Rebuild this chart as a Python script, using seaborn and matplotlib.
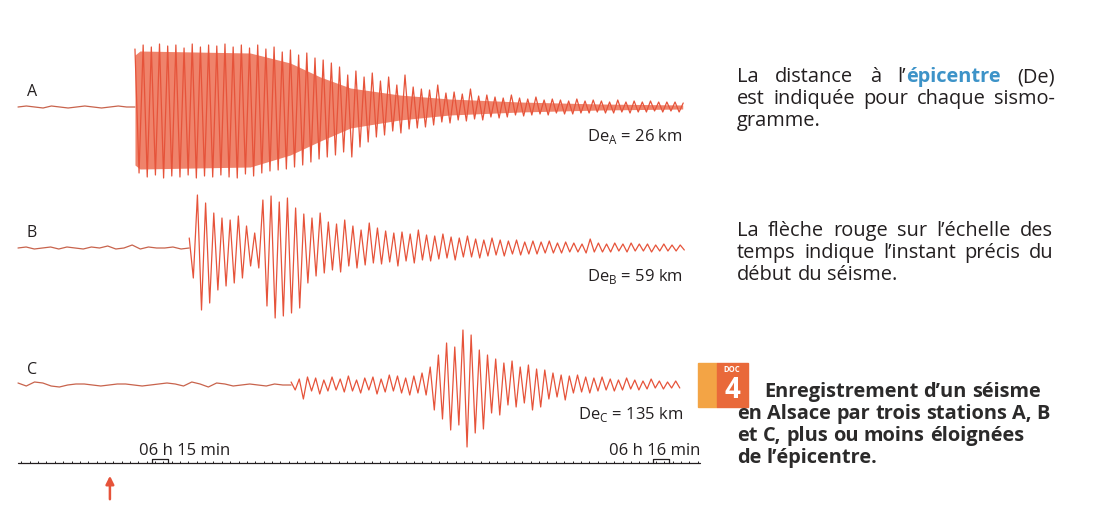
import numpy as np
import matplotlib
matplotlib.use('Agg')
import matplotlib.pyplot as plt
import seaborn as sns
from matplotlib.patches import Rectangle

# ---- data (amplitudes in arbitrary units, time in s relative to 06 h 15 min) ----
stations = ['A', 'B', 'C']
distances_km = [26, 59, 135]
onset_time = -5.4          # start of the quake (red arrow)
arrival = {'A': -2.4, 'B': 4.1, 'C': 16.3}
sample_step = 0.49

quiet_A = [0, 1, 0, -1, 1, 0, -1, 0, 1, 0, -1, 0, 1, 0, 0]
quiet_B = [0, 1, -1, 0, 1, -1, 1, 0, -1, 1, 0, 2, -1, 0, 3, -1, 1, 0, 0, 1, -1, 0]
quiet_C = [2, -1, 3, 2, -1, -2, 0, 1, 1, 0, -1, 0, 1, 1, 0, -1, 0, 1, 2, 1,
           -1, 3, 1, -2, 2, 1, -1, 0, 1, 0, -1, 1, 0, 0]

peaks_A = [58, -66, 62, -70, 60, -68, 63, -71, 61, -69,
           62, -70, 59, -68, 63, -71, 60, -69, 62, -70,
           61, -68, 63, -70, 60, -71, 62, -67, 59, -69,
           62, -66, 58, -64, 60, -63, 55, -62, 57, -60,
           52, -58, 54, -55, 49, -52, 47, -50, 44, -48,
           40, -45, 32, -50, 36, -40, 30, -35, 34, -30,
           26, -28, 30, -24, 22, -26, 32, -22, 20, -21,
           18, -20, 17, -18, 22, -15, 14, -16, 15, -13,
           13, -14, 18, -12, 11, -13, 12, -10, 10, -11,
           9, -10, 12, -8, 9, -9, 8, -8, 10, -7,
           7, -8, 8, -6, 7, -7, 6, -7, 8, -6,
           6, -6, 7, -5, 6, -6, 5, -6, 7, -5,
           5, -6, 6, -5, 5, -5, 6, -4, 5, -5,
           5, -4, 5, -5, 4]

peaks_B = [10, -30, 53, -62, 45, -55, 35, -42, 30, -38,
           28, -35, 32, -30, 22, -18, 15, -20, 48, -58,
           52, -70, 46, -68, 50, -65, 40, -60, 34, -35,
           30, -28, 35, -25, 26, -22, 24, -24, 28, -18,
           22, -20, 18, -17, 25, -15, 20, -16, 17, -14,
           15, -18, 16, -13, 14, -15, 18, -12, 13, -13,
           12, -11, 14, -10, 11, -12, 10, -9, 12, -9,
           9, -10, 8, -8, 10, -7, 8, -8, 7, -6,
           8, -7, 6, -6, 7, -6, 6, -5, 7, -5,
           5, -5, 6, -4, 5, -4, 4, -5, 9, -4,
           5, -4, 4, -4, 5, -3, 4, -4, 5, -3,
           4, -3, 4, -4, 3, -3, 4, -3, 3, -3,
           3, -2]

peaks_C = [3, -5, 6, -14, 8, -6, 7, -9, 5, -6,
           8, -5, 6, -7, 9, -6, 5, -8, 7, -5,
           8, -9, 6, -7, 10, -6, 9, -8, 7, -10,
           9, -8, 12, -10, 18, -25, 30, -34, 42, -45,
           38, -40, 55, -62, 50, -48, 35, -44, 30, -28,
           26, -30, 22, -20, 24, -22, 18, -18, 20, -25,
           16, -22, 15, -14, 12, -12, 10, -15, 9, -8,
           10, -7, 8, -8, 7, -6, 8, -5, 6, -6,
           5, -5, 7, -4, 5, -5, 4, -4, 6, -3,
           4, -4, 3, -3, 4, -3]

# solid core of record A (envelope)
core_t = [-2.4, -1.8, 11.4, 16.2, 19.8, 23.4, 29.3, 35.3, 43.7, 53.3, 63.2]
core_hi = [52, 56, 54, 44, 30, 19, 12, 8, 5, 3, 2]
core_lo = [-58, -62, -60, -48, -34, -21, -13, -8, -5, -3, -2]

minute_marks = [0, 60]
minute_labels = ['06 h 15 min', '06 h 16 min']

# ---- layout ----
W, H = 1101, 516
PX0, PXS = 155, 8.35   # pixel of 06h15, pixels per second
def t_of(px):
    return (px - PX0) / PXS

baselines = {'A': 107, 'B': 248, 'C': 385}
scale_y = 463
trace_col = '#e6533a'
ink = '#231f20'

sns.set_theme(style='white')
plt.rcParams['font.family'] = ['Open Sans', 'DejaVu Sans']
plt.rcParams['mathtext.fontset'] = 'custom'
plt.rcParams['mathtext.rm'] = 'Open Sans'

fig = plt.figure(figsize=(W / 100, H / 100), dpi=100)
ax = fig.add_axes([0, 0, 1, 1])
ax.set_xlim(t_of(0), t_of(W))
ax.set_ylim(H, 0)
ax.axis('off')

quiet = {'A': quiet_A, 'B': quiet_B, 'C': quiet_C}
peaks = {'A': peaks_A, 'B': peaks_B, 'C': peaks_C}

# core fill for A
base = baselines['A']
ax.fill_between(core_t, [base - v for v in core_hi], [base - v for v in core_lo],
                color='#ec6446', alpha=0.8, lw=0)

for s, d in zip(stations, distances_km):
    base = baselines[s]
    q = np.array(quiet[s], dtype=float)
    tq = np.linspace(t_of(18), arrival[s], len(q))
    sns.lineplot(x=tq, y=base - q, ax=ax, color='#c8634c', lw=0.9,
                 estimator=None, sort=False)
    p = np.array(peaks[s], dtype=float)
    tp = arrival[s] + sample_step * np.arange(len(p))
    sns.lineplot(x=tp, y=base - p, ax=ax, color=trace_col, lw=0.9,
                 estimator=None, sort=False)
    ax.text(t_of(32), base - 15, s, fontsize=11.5, color=ink, ha='center', va='center')
    ax.text(t_of(683), base + 29, r'De$_\mathrm{' + s + '}$ = ' + f'{d} km',
            fontsize=12, color=ink, ha='right', va='center')

# time scale
ax.plot([t_of(18), t_of(700)], [scale_y, scale_y], color=ink, lw=0.9)
ax.vlines(np.arange(-16, 66), scale_y - 2.5, scale_y, color=ink, lw=0.7)
for m in minute_marks:
    ax.plot([m - 0.3, m - 0.3, m + 1.5, m + 1.5], [scale_y, scale_y - 4, scale_y - 4, scale_y],
            color=ink, lw=0.9)
ax.text(t_of(185), 451, minute_labels[0], fontsize=12, color=ink, ha='center', va='center')
ax.text(t_of(655), 451, minute_labels[1], fontsize=12, color=ink, ha='center', va='center')

ax.annotate('', xy=(onset_time, 473), xytext=(onset_time, 502),
            arrowprops=dict(arrowstyle='-|>', color=trace_col, lw=1.8, mutation_scale=12))

# ---- right-hand text ----
renderer = fig.canvas.get_renderer()

def put_line(y, x0, words, x1=None, size=14.4):
    objs, widths = [], []
    for word in words:
        wo = []
        for txt, bold, col in word:
            t = fig.text(0, 1 - y / H, txt, fontsize=size, color=col,
                         fontweight='bold' if bold else 'normal', ha='left', va='center')
            wo.append(t)
        objs.append(wo)
        widths.append([t.get_window_extent(renderer).width for t in wo])
    total = sum(sum(w) for w in widths)
    if x1 is not None and len(words) > 1:
        gap = (x1 - x0 - total) / (len(words) - 1)
    else:
        gap = size * 0.36
    x = x0
    for wo, ws in zip(objs, widths):
        for t, w in zip(wo, ws):
            t.set_x(x / W)
            x += w
        x += gap

def plain(line, bold=False, col=ink):
    return [[(w, bold, col)] for w in line.split(' ')]

blue = '#3d93c8'
put_line(77, 737, [[('La', False, ink)], [('distance', False, ink)], [('à', False, ink)],
                   [('l’', False, ink), ('épicentre', True, blue)], [('(De)', False, ink)]], x1=1055)
put_line(99, 737, plain('est indiquée pour chaque sismo-'), x1=1055)
put_line(121, 737, plain('gramme.'))

put_line(231, 737, plain('La flèche rouge sur l’échelle des'), x1=1053)
put_line(253, 737, plain('temps indique l’instant précis du'), x1=1053)
put_line(275, 737, plain('début du séisme.'))

cap = '#2b2a2a'
put_line(392, 764, plain('Enregistrement d’un séisme', bold=True, col=cap))
put_line(414, 737, plain('en Alsace par trois stations A, B', bold=True, col=cap))
put_line(436, 737, plain('et C, plus ou moins éloignées', bold=True, col=cap))
put_line(458, 737, plain('de l’épicentre.', bold=True, col=cap))

# DOC badge
fig.patches.append(Rectangle((698 / W, 1 - 407 / H), 19 / W, 44 / H,
                             transform=fig.transFigure, color='#f3a445', zorder=0))
fig.patches.append(Rectangle((717 / W, 1 - 407 / H), 31 / W, 44 / H,
                             transform=fig.transFigure, color='#e9693a', zorder=0))
fig.text(732 / W, 1 - 370 / H, 'DOC', fontsize=5.5, color='white', fontweight='bold',
         ha='center', va='center')
fig.text(732 / W, 1 - 390 / H, '4', fontsize=20, color='white', fontweight='bold',
         ha='center', va='center')

fig.savefig('out.png', dpi=100)
